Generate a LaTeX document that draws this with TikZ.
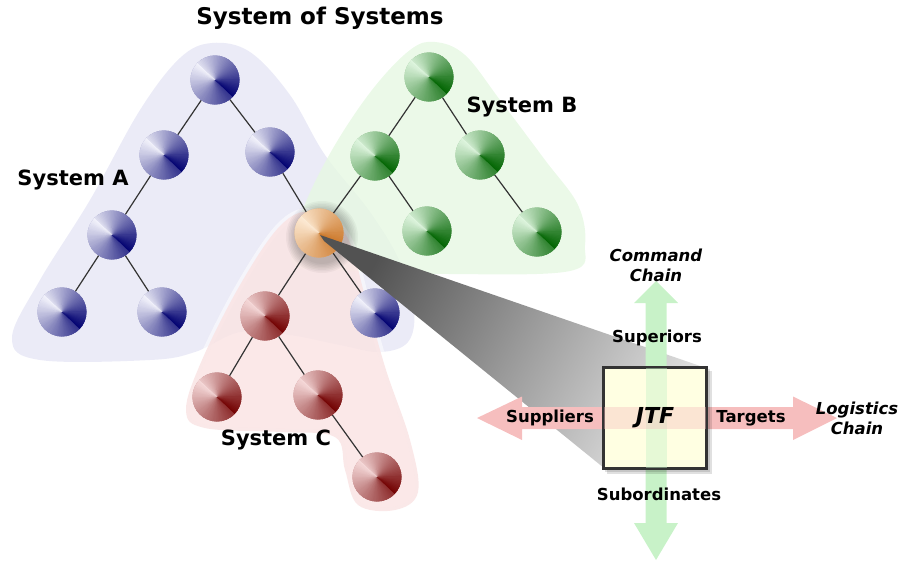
\documentclass[tikz,border=0pt]{standalone}
\usepackage{fontspec}
\setmainfont{DejaVu Sans}
\definecolor{blueL}{HTML}{F4F4FC}
\definecolor{blueD}{HTML}{000070}
\definecolor{greenL}{HTML}{E0F6E0}
\definecolor{greenD}{HTML}{006400}
\definecolor{redL}{HTML}{F6DADA}
\definecolor{redD}{HTML}{720000}
\definecolor{orangeL}{HTML}{FDEBD5}
\definecolor{orangeD}{HTML}{C96F1C}
\definecolor{blobBlue}{HTML}{EBEBF7}
\definecolor{blobGreen}{HTML}{E6F8E2}
\definecolor{blobRed}{HTML}{FAE4E4}
\definecolor{mint}{HTML}{C8F2C8}
\definecolor{rose}{HTML}{F6BEBE}
\definecolor{cream}{HTML}{FFFFE2}
\definecolor{ink}{HTML}{333333}
\begin{document}
\begin{tikzpicture}[x=1pt,y=-1pt,
  % conic-looking ball: white seam at upper left, darkest seam at lower right
  ball/.style 2 args={circle, minimum size=49pt, inner sep=0pt, path picture={
    \fill[#2!50!#1] (path picture bounding box.center) circle[radius=26pt];
    \foreach \a in {0,4,...,356}{
      \pgfmathsetmacro\u{mod(\a+227,360)}
      \pgfmathtruncatemacro\p{\u<180 ? \u/2.3 : 100-(\u-180)/2}
      \fill[#2!\p!#1] (path picture bounding box.center) -- ++(\a:26pt)
        arc[start angle=\a, end angle=\a+7, radius=26pt] -- cycle;
    }}},
  bball/.style={ball={blueL}{blueD}},
  gball/.style={ball={greenL}{greenD}},
  rball/.style={ball={redL}{redD}},
  oball/.style={ball={orangeL}{orangeD}},
  edge/.style={draw=ink, line width=1.2pt},
  lab/.style={font=\bfseries\fontsize{21}{24}\selectfont, text=black, inner sep=1pt},
  small/.style={font=\bfseries\fontsize{16.5}{20}\selectfont, text=black, inner sep=1pt, align=center},
  smallit/.style={font=\bfseries\itshape\fontsize{16.5}{20}\selectfont, text=black, inner sep=1pt, align=center},
]
\useasboundingbox (0,0) rectangle (899,563);

% system regions
\fill[blobBlue] plot[smooth cycle, tension=0.6] coordinates {
  (12,338) (40,280) (90,200) (140,110) (180,58) (212,43) (250,52) (290,95)
  (325,155) (370,212) (400,262) (414,310) (408,342) (380,352) (340,345)
  (290,335) (240,332) (195,352) (150,360) (40,360)};
\fill[blobGreen, fill opacity=0.8] plot[smooth cycle, tension=0.6] coordinates {
  (292,262) (302,212) (332,150) (372,90) (410,50) (435,42) (465,55) (500,100)
  (545,160) (578,205) (585,245) (570,271) (450,274) (330,270)};
\draw[white, line width=7pt, opacity=0.55] plot[smooth cycle, tension=0.6] coordinates {
  (186,410) (202,360) (240,285) (280,226) (312,212) (346,235) (366,300)
  (386,370) (410,440) (418,492) (395,510) (358,505) (345,470) (335,437)
  (280,432) (205,428)};
\fill[blobRed, fill opacity=0.85] plot[smooth cycle, tension=0.6] coordinates {
  (186,410) (202,360) (240,285) (280,226) (312,212) (346,235) (366,300)
  (386,370) (410,440) (418,492) (395,510) (358,505) (345,470) (335,437)
  (280,432) (205,428)};

% soft shadow under the hub
\foreach \r in {27,28.5,...,36}
  \fill[black, opacity=0.035] (322,237) circle[radius=\r pt];

% nodes
\node[bball] (A1) at (215,80) {};
\node[bball] (A2) at (164,155) {};
\node[bball] (A3) at (270,152) {};
\node[bball] (A4) at (112,235) {};
\node[bball] (A5) at (62,312) {};
\node[bball] (A6) at (162,312) {};
\node[bball] (A7) at (375,313) {};
\node[oball] (H) at (319,233) {};
\node[gball] (B1) at (429,77) {};
\node[gball] (B2) at (375,156) {};
\node[gball] (B3) at (480,155) {};
\node[gball] (B4) at (427,231) {};
\node[gball] (B5) at (537,232) {};
\node[rball] (C1) at (265,316) {};
\node[rball] (C2) at (217,397) {};
\node[rball] (C3) at (318,395) {};
\node[rball] (C4) at (377,477) {};

% tree links
\draw[edge] (A1) -- (A2);
\draw[edge] (A1) -- (A3);
\draw[edge] (A2) -- (A4);
\draw[edge] (A4) -- (A5);
\draw[edge] (A4) -- (A6);
\draw[edge] (A3) -- (H);
\draw[edge] (H) -- (A7);
\draw[edge] (H) -- (B2);
\draw[edge] (B1) -- (B2);
\draw[edge] (B1) -- (B3);
\draw[edge] (B2) -- (B4);
\draw[edge] (B3) -- (B5);
\draw[edge] (H) -- (C1);
\draw[edge] (C1) -- (C2);
\draw[edge] (C1) -- (C3);
\draw[edge] (C3) -- (C4);

% JTF box position
\coordinate (jc) at (655,418);

% zoom beam from the hub to the box
\shade[top color=black!68, bottom color=black!13, middle color=black!40, shading angle=61]
  (320,235) -- (706,368) -- (604,368) -- (604,468) -- (324,241) -- cycle;

% command and logistics chains
\fill[mint] (656,281) -- (678,303) -- (666.5,303) -- (666.5,523) -- (678,523)
  -- (656,560) -- (634,523) -- (645.5,523) -- (645.5,303) -- (634,303) -- cycle;
\fill[rose] (477,418) -- (522,396.5) -- (522,407) -- (793,407) -- (793,396.5)
  -- (837,418) -- (793,440) -- (793,429) -- (522,429) -- (522,440) -- cycle;

% the JTF box with its shadow
\fill[black, opacity=0.12] (607,371) rectangle (712,474);
\fill[black, opacity=0.12] (605,369) rectangle (710,472);
\node[draw=ink, fill=cream, line width=1.8pt, minimum width=102pt, minimum height=100pt,
  inner sep=0pt] (jtf) at (jc) {};
\begin{scope}
  \clip (604,368) rectangle (706,468);
  \fill[mint, opacity=0.45] (645.5,300) rectangle (666.5,530);
  \fill[rose, opacity=0.4] (590,407) rectangle (720,429);
\end{scope}
\draw[ink, line width=1.8pt] (jtf.south west) rectangle (jtf.north east);

% labels
\node[lab, font=\bfseries\fontsize{23}{26}\selectfont] (title) at (320,18) {System of Systems};
\node[lab] (sa) at (73,180) {System A};
\node[lab] (sb) at (522,107) {System B};
\node[lab] (sc) at (276,440) {System C};
\node[smallit] (cmd) at (656,265) {Command\\Chain};
\node[smallit] (log) at (857,418) {Logistics\\Chain};
\node[small] (sup) at (657,338) {Superiors};
\node[small] (spl) at (550,418) {Suppliers};
\node[small] (tgt) at (751,418) {Targets};
\node[small] (sub) at (659,494) {Subordinates};
\node[font=\bfseries\itshape\fontsize{22}{24}\selectfont] (jtft) at (jc) {JTF};
\end{tikzpicture}
\end{document}
